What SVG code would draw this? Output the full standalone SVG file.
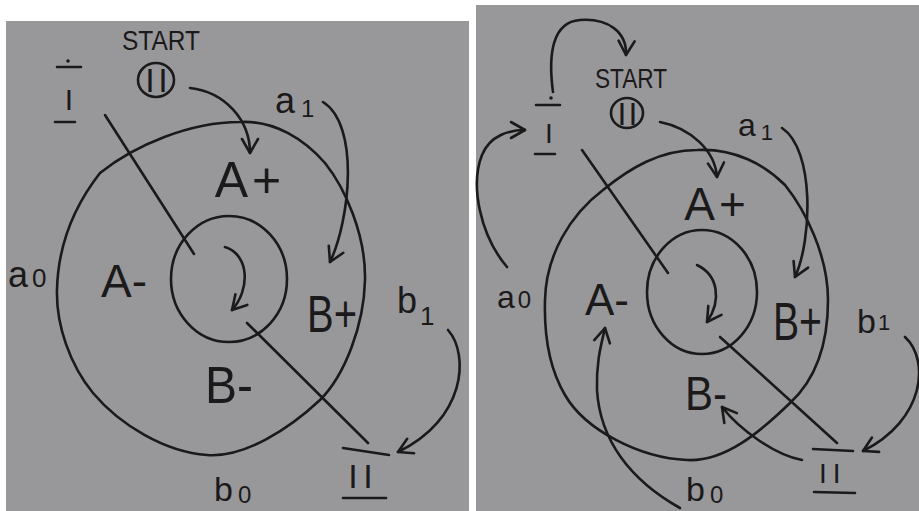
<svg xmlns="http://www.w3.org/2000/svg" width="919" height="511" viewBox="0 0 919 511">
<defs>
<style>
.ink{fill:none;stroke:#1b191a;stroke-width:2.6;stroke-linecap:round;stroke-linejoin:round}
.t{fill:#1b191a;font-family:"Liberation Sans","DejaVu Sans",sans-serif}
.arr{marker-end:url(#head)}
</style>
<marker id="head" viewBox="0 0 20 20" refX="17" refY="10" markerWidth="20" markerHeight="20" markerUnits="userSpaceOnUse" orient="auto">
<path d="M3,2 L17,10 L3,18" fill="none" stroke="#1b191a" stroke-width="2.6" stroke-linecap="round" stroke-linejoin="round"/>
</marker>
</defs>
<rect width="919" height="511" fill="#ffffff"/>
<rect x="6" y="21" width="463" height="490" fill="#98989a"/>
<rect x="476" y="5" width="443" height="506" fill="#98989a"/>

<!-- LEFT PANEL -->
<g id="left">
<g id="left-rings">
<path class="ink" d="M240,122 C275,120 305,140 325,163 C345,188 366,235 365,280 C364,325 345,375 320,400 C290,428 245,458 207,455 C165,452 120,425 93,393 C70,365 56,325 57,290 C58,245 75,205 100,173 C135,145 190,122 240,122 Z"/>
<ellipse class="ink" cx="229" cy="279" rx="58" ry="63"/>
</g>
<g id="left-node-I">
<circle cx="68" cy="61" r="1.8" fill="#1b191a"/>
<line class="ink" x1="57" y1="67" x2="81" y2="67"/>
<text class="t" x="64.8" y="110" font-size="30">I</text>
<line class="ink" x1="55" y1="122" x2="75" y2="122"/>
</g>
<g id="left-node-start">
<text class="t" x="122" y="50" font-size="28" textLength="78" lengthAdjust="spacingAndGlyphs">START</text>
<ellipse class="ink" cx="156" cy="80" rx="18" ry="17"/>
<text class="t" x="145.3" y="92" font-size="34" letter-spacing="3.6">II</text>
</g>
<g id="left-node-II">
<line class="ink" x1="343" y1="448" x2="389" y2="455"/>
<text class="t" x="348.3" y="488" font-size="34" letter-spacing="5.6">II</text>
<line class="ink" x1="343" y1="498" x2="386" y2="498"/>
</g>
<g id="left-regions">
<text class="t" x="250" y="197" font-size="50" text-anchor="middle" letter-spacing="4">A+</text>
<text class="t" x="124" y="297" font-size="46" text-anchor="middle">A-</text>
<text class="t" x="307" y="332" font-size="52" textLength="50" lengthAdjust="spacingAndGlyphs">B+</text>
<text class="t" x="205" y="403" font-size="52" textLength="48" lengthAdjust="spacingAndGlyphs">B-</text>
</g>
<g id="left-labels">
<text class="t" x="8" y="287" font-size="36">a<tspan font-size="26" dx="4">0</tspan></text>
<text class="t" x="275" y="113" font-size="36">a<tspan font-size="24" dx="6" dy="4">1</tspan></text>
<text class="t" x="397" y="313" font-size="36">b<tspan font-size="26" dx="3" dy="12">1</tspan></text>
<text class="t" x="214" y="501" font-size="34">b<tspan font-size="24" dx="5" dy="2">0</tspan></text>
</g>
<g id="left-connectors">
<line class="ink" x1="105" y1="115" x2="194" y2="254"/>
<line class="ink" x1="247" y1="323" x2="368" y2="443"/>
<path class="ink arr" d="M225,247 C250,255 250,290 232,310"/>
<path class="ink arr" d="M190,88 C225,92 250,120 250,153"/>
<path class="ink arr" d="M323,102 C360,125 350,220 330,262"/>
<path class="ink arr" d="M448,330 C470,355 465,420 398,452"/>
</g>
</g>

<!-- RIGHT PANEL -->
<g id="right">
<g id="right-rings">
<path class="ink" d="M697,150 C735,148 765,165 785,185 C805,210 828,255 828,300 C828,345 815,380 790,403 C760,432 725,462 687,460 C640,458 585,430 565,395 C550,370 544,335 545,300 C546,255 570,215 603,190 C630,168 660,150 697,150 Z"/>
<ellipse class="ink" cx="702" cy="292" rx="55" ry="62"/>
</g>
<g id="right-node-I">
<circle cx="551" cy="98" r="1.8" fill="#1b191a"/>
<line class="ink" x1="536" y1="105" x2="560" y2="105"/>
<text class="t" x="545" y="143" font-size="28">I</text>
<line class="ink" x1="535" y1="154" x2="555" y2="154"/>
</g>
<g id="right-node-start">
<text class="t" x="595" y="88" font-size="28" textLength="72" lengthAdjust="spacingAndGlyphs">START</text>
<ellipse class="ink" cx="627" cy="113" rx="16" ry="15"/>
<text class="t" x="617.5" y="125" font-size="32" letter-spacing="2">II</text>
</g>
<g id="right-node-II">
<line class="ink" x1="813" y1="449" x2="853" y2="451"/>
<text class="t" x="819" y="483" font-size="28" letter-spacing="6">II</text>
<line class="ink" x1="814" y1="492" x2="855" y2="493"/>
</g>
<g id="right-regions">
<text class="t" x="717" y="220" font-size="46" text-anchor="middle" letter-spacing="4">A+</text>
<text class="t" x="607" y="315" font-size="44" text-anchor="middle">A-</text>
<text class="t" x="773" y="340" font-size="54" textLength="49" lengthAdjust="spacingAndGlyphs">B+</text>
<text class="t" x="685" y="410" font-size="48" textLength="42" lengthAdjust="spacingAndGlyphs">B-</text>
</g>
<g id="right-labels">
<text class="t" x="497" y="308" font-size="32">a<tspan font-size="24" dx="3">0</tspan></text>
<text class="t" x="738" y="136" font-size="32">a<tspan font-size="22" dx="5" dy="4">1</tspan></text>
<text class="t" x="857" y="333" font-size="34">b<tspan font-size="22" dx="2" dy="-3">1</tspan></text>
<text class="t" x="686" y="501" font-size="34">b<tspan font-size="24" dx="5" dy="2">0</tspan></text>
</g>
<g id="right-connectors">
<line class="ink" x1="582" y1="150" x2="668" y2="273"/>
<line class="ink" x1="720" y1="337" x2="837" y2="443"/>
<path class="ink arr" d="M697,265 C718,275 722,300 707,322"/>
<path class="ink arr" d="M553,92 C548,55 552,22 580,20 C608,18 627,32 626,55"/>
<path class="ink arr" d="M660,122 C690,128 715,150 717,177"/>
<path class="ink arr" d="M782,128 C815,150 812,240 795,277"/>
<path class="ink arr" d="M905,337 C930,360 925,420 863,451"/>
<path class="ink arr" d="M507,267 C480,235 470,185 482,155 C490,135 510,130 525,130"/>
<path class="ink arr" d="M802,460 C775,455 740,430 722,407"/>
<path class="ink arr" d="M680,508 C630,480 600,440 597,390 C596,360 602,342 605,328"/>
</g>
</g>
</svg>
